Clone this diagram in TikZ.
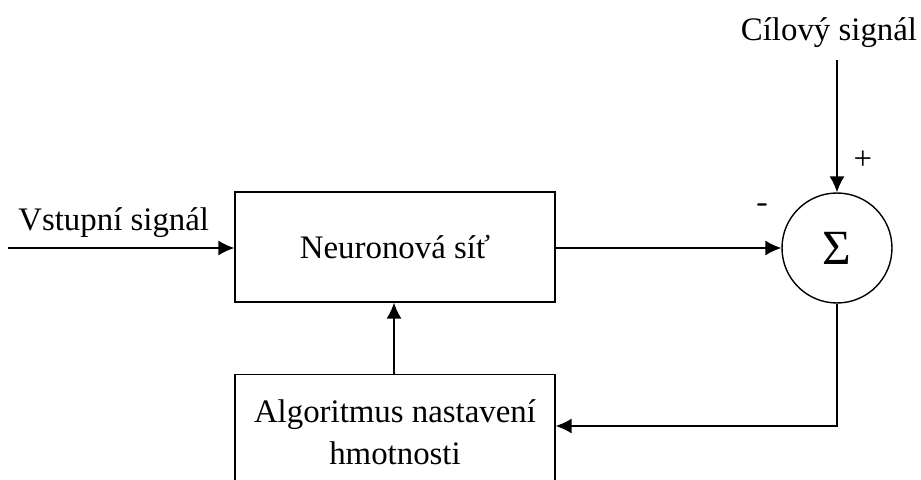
\documentclass[tikz,border=0pt]{standalone}
\usepackage{fontspec}
\setmainfont{Liberation Serif}
\usetikzlibrary{arrows.meta,calc,positioning}

\begin{document}
\begin{tikzpicture}[x=0.02cm,y=-0.02cm,
      block/.style={rectangle,draw=black,thick,minimum width=6.4cm,
        font=\fontsize{18.7}{24.4}\selectfont,align=center},
      sumnode/.style={circle,draw=black,thick,minimum size=2.2cm,inner sep=0pt,
        font=\fontsize{28}{30}\selectfont},
      lbl/.style={font=\fontsize{18.7}{24.4}\selectfont,inner sep=0pt},
      edge/.style={-{Latex[length=3.2mm,width=3mm]},thick,color=black}
    ]
      \useasboundingbox (0,0) rectangle (921,480);
      \clip (0,0) rectangle (921,480);
      % blocks
      \node[block,minimum height=2.2cm] (nn) at (395,247) {Neuronová síť};
      \node[sumnode] (sum) at (837,248) {Σ};
      \node[block,minimum height=2.3cm,anchor=north] (alg) at (395,374)
        {Algoritmus nastavení\\hmotnosti};
      % signals
      \coordinate (in) at (8,248);
      \coordinate (tgt) at (837,60);
      \coordinate (fb) at (837,426);
      \node[lbl,anchor=base west] (inlbl) at (18,230) {Vstupní signál};
      \node[lbl,anchor=base] (tgtlbl) at (829,40) {Cílový signál};
      \node[lbl] (plus) at (863,160) {+};
      \node[lbl,font=\fontsize{18.7}{24.4}\sffamily\bfseries] (minus) at (763,208) {-};
      % connections
      \draw[edge] (in) -- (in -| nn.west);
      \draw[edge] (nn.east |- sum) -- (sum);
      \draw[edge] (tgt) -- (sum);
      \draw[edge] (sum.south) -- (fb) -- (alg.east |- fb);
      \draw[edge] (alg.north -| 394,0) -- (nn.south -| 394,0);
    \end{tikzpicture}
\end{document}
